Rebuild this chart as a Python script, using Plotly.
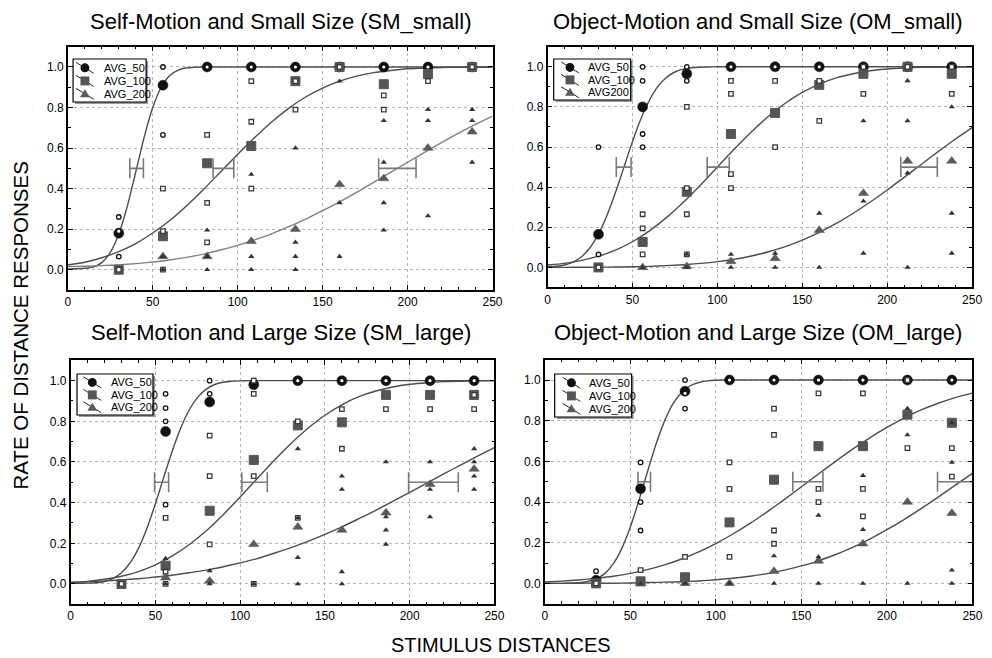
import plotly.graph_objects as go

FONT = "Liberation Sans, Arial, sans-serif"

# ---------------- data ----------------
DISTANCES = [30, 56, 82, 108, 134, 160, 186, 212, 238]
CURVE_X_FINE = [0, 5, 10, 15, 20, 25, 30, 35, 40, 45, 50, 55, 60, 65, 70, 75, 80, 85, 90, 95,
                100, 105, 110, 115, 120, 130, 140, 150, 160, 170, 180, 190, 200, 210, 220, 230, 240, 250]
CURVE_X = [0, 10, 20, 30, 40, 50, 60, 70, 80, 90, 100, 110, 120, 130, 140, 150, 160, 170, 180,
           190, 200, 210, 220, 230, 240, 250]
X_TICKS = [0, 50, 100, 150, 200, 250]
Y_TICKS = [0.0, 0.2, 0.4, 0.6, 0.8, 1.0]
THRESH_LEVEL = [0.5, 0.5, 0.5]

PANEL_TITLES = ["Self-Motion and Small Size (SM_small)", "Object-Motion and Small Size (OM_small)",
                "Self-Motion and Large Size (SM_large)", "Object-Motion and Large Size (OM_large)"]
LEGEND_NAMES = [["AVG_50", "AVG_100", "AVG_200"], ["AVG_50", "AVG_100", "AVG200"],
                ["AVG_50", "AVG_100", "AVG_200"], ["AVG_50", "AVG_100", "AVG_200"]]
Y_TITLE = "RATE OF DISTANCE RESPONSES"
X_TITLE = "STIMULUS DISTANCES"

# --- SM_small ---
SM_SMALL_AVG50 = [0.18, 0.91, 1.0, 1.0, 1.0, 1.0, 1.0, 1.0, 1.0]
SM_SMALL_AVG100 = [0.0, 0.165, 0.525, 0.61, 0.93, 1.0, 0.915, 0.965, 1.0]
SM_SMALL_AVG200 = [None, 0.065, 0.065, 0.14, 0.20, 0.42, 0.45, 0.60, 0.68]
SM_SMALL_SUB50_X = [30, 30, 30, 56, 56, 82, 108, 134, 160, 186, 212, 238]
SM_SMALL_SUB50_Y = [0.26, 0.19, 0.065, 1.0, 0.665, 1.0, 1.0, 1.0, 1.0, 1.0, 1.0, 1.0]
SM_SMALL_SUB100_X = [30, 56, 56, 56, 82, 82, 82, 108, 108, 108, 134, 134, 160, 186, 186, 212, 238]
SM_SMALL_SUB100_Y = [0.0, 0.40, 0.19, 0.0, 0.665, 0.33, 0.135, 0.93, 0.73, 0.40, 0.93, 0.79, 1.0, 0.86, 0.79, 0.93, 1.0]
SM_SMALL_SUB200_X = [56, 56, 82, 82, 82, 108, 108, 108, 134, 134, 134, 134, 160, 160, 160,
                     186, 186, 186, 186, 212, 212, 212, 238, 238, 238]
SM_SMALL_SUB200_Y = [0.065, 0.0, 0.195, 0.065, 0.0, 0.47, 0.065, 0.0, 0.60, 0.135, 0.065, 0.0, 0.93, 0.33, 0.065,
                     0.735, 0.53, 0.33, 0.195, 0.79, 0.735, 0.265, 0.79, 0.735, 0.53]
SM_SMALL_FIT50 = [0.004, 0.005, 0.007, 0.013, 0.035, 0.085, 0.176, 0.313, 0.482, 0.655, 0.80, 0.90, 0.958,
                  0.985, 0.996, 0.999, 1.0, 1.0, 1.0, 1.0, 1.0, 1.0, 1.0, 1.0, 1.0, 1.0, 1.0, 1.0, 1.0,
                  1.0, 1.0, 1.0, 1.0, 1.0, 1.0, 1.0, 1.0, 1.0]
SM_SMALL_FIT100 = [0.023, 0.037, 0.059, 0.089, 0.129, 0.181, 0.243, 0.316, 0.397, 0.483, 0.569, 0.652, 0.729,
                   0.796, 0.852, 0.896, 0.930, 0.955, 0.972, 0.983, 0.991, 0.995, 0.997, 0.999, 0.999, 1.0]
SM_SMALL_FIT200 = [0.015, 0.017, 0.020, 0.024, 0.030, 0.038, 0.048, 0.061, 0.077, 0.097, 0.120, 0.147, 0.177,
                   0.212, 0.250, 0.291, 0.335, 0.382, 0.431, 0.480, 0.530, 0.579, 0.627, 0.674, 0.717, 0.758]
SM_SMALL_THRESH = [40.5, 91.6, 194.0]
SM_SMALL_THRESH_CI = [4.0, 6.1, 11.0]

# --- OM_small ---
OM_SMALL_AVG50 = [0.165, 0.80, 0.965, 1.0, 1.0, 1.0, 1.0, 1.0, 1.0]
OM_SMALL_AVG100 = [0.0, 0.127, 0.377, 0.665, 0.77, 0.91, 0.965, 1.0, 0.965]
OM_SMALL_AVG200 = [None, 0.0, 0.005, 0.03, 0.045, 0.185, 0.37, 0.53, 0.53]
OM_SMALL_SUB50_X = [30, 30, 56, 56, 56, 56, 82, 82, 108, 134, 160, 186, 212, 238]
OM_SMALL_SUB50_Y = [0.60, 0.065, 1.0, 0.93, 0.665, 0.60, 1.0, 0.93, 1.0, 1.0, 1.0, 1.0, 1.0, 1.0]
OM_SMALL_SUB100_X = [30, 56, 56, 56, 82, 82, 82, 82, 108, 108, 108, 108, 134, 134, 160, 160, 186, 186, 212, 238, 238]
OM_SMALL_SUB100_Y = [0.0, 0.265, 0.195, 0.065, 0.80, 0.395, 0.265, 0.065, 0.93, 0.865, 0.465, 0.395, 0.93, 0.60,
                     0.93, 0.73, 1.0, 0.865, 1.0, 1.0, 0.865]
OM_SMALL_SUB200_X = [56, 82, 82, 108, 108, 134, 134, 160, 160, 186, 186, 186, 212, 212, 212, 212, 238, 238, 238]
OM_SMALL_SUB200_Y = [0.0, 0.065, 0.0, 0.065, 0.0, 0.07, 0.0, 0.27, 0.0, 0.73, 0.33, 0.07, 0.93, 0.73, 0.47, 0.0,
                     0.80, 0.27, 0.07]
OM_SMALL_FIT50 = [0.004, 0.006, 0.012, 0.026, 0.053, 0.098, 0.167, 0.259, 0.373, 0.5, 0.627, 0.741, 0.833,
                  0.902, 0.947, 0.974, 0.988, 0.995, 0.998, 0.999, 1.0, 1.0, 1.0, 1.0, 1.0, 1.0, 1.0, 1.0,
                  1.0, 1.0, 1.0, 1.0, 1.0, 1.0, 1.0, 1.0, 1.0, 1.0]
OM_SMALL_FIT100 = [0.012, 0.020, 0.035, 0.056, 0.086, 0.128, 0.182, 0.248, 0.325, 0.410, 0.5, 0.590, 0.675,
                   0.752, 0.818, 0.872, 0.914, 0.945, 0.965, 0.980, 0.989, 0.994, 0.997, 0.998, 0.999, 1.0]
OM_SMALL_FIT200 = [0.0, 0.0, 0.001, 0.001, 0.002, 0.003, 0.005, 0.009, 0.013, 0.020, 0.029, 0.041, 0.057,
                   0.078, 0.104, 0.136, 0.175, 0.219, 0.270, 0.326, 0.386, 0.449, 0.513, 0.577, 0.639, 0.697]
OM_SMALL_THRESH = [44.85, 100.5, 218.75]
OM_SMALL_THRESH_CI = [4.35, 6.5, 10.75]

# --- SM_large ---
SM_LARGE_AVG50 = [None, 0.75, 0.895, 0.98, 1.0, 1.0, 1.0, 1.0, 1.0]
SM_LARGE_AVG100 = [0.0, 0.09, 0.36, 0.61, 0.78, 0.795, 0.93, 0.93, 0.93]
SM_LARGE_AVG200 = [None, 0.03, 0.015, 0.195, 0.28, 0.265, 0.35, 0.49, 0.565]
SM_LARGE_SUB50_X = [56, 56, 56, 56, 82, 82, 108, 134, 160, 186, 212, 238]
SM_LARGE_SUB50_Y = [0.935, 0.865, 0.80, 0.39, 1.0, 0.935, 1.0, 1.0, 1.0, 1.0, 1.0, 1.0]
SM_LARGE_SUB100_X = [30, 56, 56, 56, 82, 82, 82, 108, 108, 108, 108, 134, 134, 160, 160, 186, 212, 238, 238]
SM_LARGE_SUB100_Y = [0.0, 0.325, 0.06, 0.0, 0.73, 0.53, 0.195, 1.0, 0.935, 0.53, 0.0, 0.80, 0.325, 0.86, 0.665,
                     0.86, 0.86, 0.93, 0.86]
SM_LARGE_SUB200_X = [56, 56, 82, 82, 108, 134, 134, 134, 134, 160, 160, 160, 160, 186, 186, 186, 186,
                     212, 212, 212, 238, 238, 238, 238]
SM_LARGE_SUB200_Y = [0.125, 0.0, 0.065, 0.0, 0.0, 0.665, 0.325, 0.13, 0.0, 0.53, 0.465, 0.06, 0.0, 0.60, 0.33,
                     0.265, 0.195, 0.60, 0.465, 0.33, 0.665, 0.60, 0.53, 0.465]
SM_LARGE_FIT50 = [0.003, 0.003, 0.004, 0.006, 0.012, 0.027, 0.055, 0.103, 0.175, 0.274, 0.395, 0.527, 0.655,
                  0.768, 0.857, 0.919, 0.958, 0.981, 0.992, 0.997, 0.999, 1.0, 1.0, 1.0, 1.0, 1.0, 1.0, 1.0,
                  1.0, 1.0, 1.0, 1.0, 1.0, 1.0, 1.0, 1.0, 1.0, 1.0]
SM_LARGE_FIT100 = [0.007, 0.013, 0.023, 0.038, 0.061, 0.094, 0.138, 0.194, 0.262, 0.341, 0.428, 0.518, 0.607,
                   0.691, 0.766, 0.830, 0.881, 0.921, 0.949, 0.969, 0.982, 0.990, 0.995, 0.997, 0.999, 1.0]
SM_LARGE_FIT200 = [0.008, 0.011, 0.015, 0.020, 0.026, 0.034, 0.043, 0.055, 0.068, 0.085, 0.104, 0.125, 0.151,
                   0.179, 0.210, 0.244, 0.281, 0.321, 0.362, 0.406, 0.450, 0.496, 0.541, 0.585, 0.629, 0.671]
SM_LARGE_THRESH = [53.65, 108.5, 214.0]
SM_LARGE_THRESH_CI = [4.15, 7.5, 14.65]

# --- OM_large ---
OM_LARGE_AVG50 = [0.015, 0.465, 0.945, 1.0, 1.0, 1.0, 1.0, 1.0, 1.0]
OM_LARGE_AVG100 = [0.0, 0.01, 0.03, 0.30, 0.51, 0.675, 0.675, 0.83, 0.79]
OM_LARGE_AVG200 = [None, 0.0, 0.0, 0.0, 0.06, 0.11, 0.195, 0.40, 0.345]
OM_LARGE_SUB50_X = [30, 56, 56, 56, 82, 82, 82, 108, 134, 160, 186, 212, 238]
OM_LARGE_SUB50_Y = [0.06, 0.595, 0.40, 0.26, 1.0, 0.935, 0.86, 1.0, 1.0, 1.0, 1.0, 1.0, 1.0]
OM_LARGE_SUB100_X = [30, 56, 82, 108, 108, 108, 134, 134, 134, 134, 160, 160, 160, 186, 186, 186, 212, 212, 238, 238]
OM_LARGE_SUB100_Y = [0.0, 0.065, 0.13, 0.595, 0.465, 0.13, 0.86, 0.73, 0.26, 0.195, 0.935, 0.465, 0.40, 0.935,
                     0.465, 0.33, 1.0, 0.665, 0.665, 0.525]
OM_LARGE_SUB200_X = [56, 82, 108, 134, 134, 160, 160, 160, 186, 186, 186, 212, 212, 212, 238, 238, 238, 238]
OM_LARGE_SUB200_Y = [0.0, 0.0, 0.0, 0.135, 0.0, 0.335, 0.13, 0.0, 0.53, 0.265, 0.0, 0.86, 0.73, 0.0, 0.79, 0.595,
                     0.065, 0.0]
OM_LARGE_FIT50 = [0.0, 0.0, 0.0, 0.001, 0.003, 0.009, 0.022, 0.048, 0.096, 0.171, 0.277, 0.407, 0.548, 0.684,
                  0.798, 0.884, 0.939, 0.972, 0.988, 0.996, 0.999, 1.0, 1.0, 1.0, 1.0, 1.0, 1.0, 1.0, 1.0,
                  1.0, 1.0, 1.0, 1.0, 1.0, 1.0, 1.0, 1.0, 1.0]
OM_LARGE_FIT100 = [0.007, 0.011, 0.017, 0.025, 0.035, 0.049, 0.068, 0.091, 0.120, 0.155, 0.196, 0.243, 0.295,
                   0.352, 0.412, 0.475, 0.538, 0.600, 0.660, 0.716, 0.767, 0.813, 0.853, 0.886, 0.914, 0.936]
OM_LARGE_FIT200 = [0.0, 0.0, 0.001, 0.001, 0.001, 0.002, 0.004, 0.006, 0.008, 0.012, 0.018, 0.025, 0.035,
                   0.048, 0.065, 0.086, 0.111, 0.142, 0.177, 0.218, 0.264, 0.314, 0.368, 0.424, 0.483, 0.541]
OM_LARGE_THRESH = [58.15, 153.8, 245.0]
OM_LARGE_THRESH_CI = [3.65, 8.8, 15.4]

# ---------------- layout / styling ----------------
W, H = 992, 658


def px(xp):
    return xp / W


def py(yp):
    return 1 - yp / H


PANELS = [
    dict(avg=[SM_SMALL_AVG50, SM_SMALL_AVG100, SM_SMALL_AVG200],
         sub=[(SM_SMALL_SUB50_X, SM_SMALL_SUB50_Y), (SM_SMALL_SUB100_X, SM_SMALL_SUB100_Y),
              (SM_SMALL_SUB200_X, SM_SMALL_SUB200_Y)],
         fit=[SM_SMALL_FIT50, SM_SMALL_FIT100, SM_SMALL_FIT200],
         thr=SM_SMALL_THRESH, ci=SM_SMALL_THRESH_CI,
         xdom=[0.0662, 0.5], ydom=[0.5593, 0.9290], fit200_color="#808080",
         title_xy=(0.2838, 0.9666), leg_box=(71, 59, 74, 43, 12, 29)),
    dict(avg=[OM_SMALL_AVG50, OM_SMALL_AVG100, OM_SMALL_AVG200],
         sub=[(OM_SMALL_SUB50_X, OM_SMALL_SUB50_Y), (OM_SMALL_SUB100_X, OM_SMALL_SUB100_Y),
              (OM_SMALL_SUB200_X, OM_SMALL_SUB200_Y)],
         fit=[OM_SMALL_FIT50, OM_SMALL_FIT100, OM_SMALL_FIT200],
         thr=OM_SMALL_THRESH, ci=OM_SMALL_THRESH_CI,
         xdom=[0.5562, 0.9899], ydom=[0.5631, 0.9290], fit200_color="#4d4d4d",
         title_xy=(0.7712, 0.9666), leg_box=(558, 59, 78, 41, 16.5, 33)),
    dict(avg=[SM_LARGE_AVG50, SM_LARGE_AVG100, SM_LARGE_AVG200],
         sub=[(SM_LARGE_SUB50_X, SM_LARGE_SUB50_Y), (SM_LARGE_SUB100_X, SM_LARGE_SUB100_Y),
              (SM_LARGE_SUB200_X, SM_LARGE_SUB200_Y)],
         fit=[SM_LARGE_FIT50, SM_LARGE_FIT100, SM_LARGE_FIT200],
         thr=SM_LARGE_THRESH, ci=SM_LARGE_THRESH_CI,
         xdom=[0.0691, 0.5020], ydom=[0.0816, 0.4524], fit200_color="#4d4d4d",
         title_xy=(0.2838, 0.4954), leg_box=(75, 374, 77, 41, 15.5, 32.5)),
    dict(avg=[OM_LARGE_AVG50, OM_LARGE_AVG100, OM_LARGE_AVG200],
         sub=[(OM_LARGE_SUB50_X, OM_LARGE_SUB50_Y), (OM_LARGE_SUB100_X, OM_LARGE_SUB100_Y),
              (OM_LARGE_SUB200_X, OM_LARGE_SUB200_Y)],
         fit=[OM_LARGE_FIT50, OM_LARGE_FIT100, OM_LARGE_FIT200],
         thr=OM_LARGE_THRESH, ci=OM_LARGE_THRESH_CI,
         xdom=[0.5534, 0.9902], ydom=[0.0825, 0.4533], fit200_color="#4d4d4d",
         title_xy=(0.7707, 0.4954), leg_box=(559, 374, 78, 43, 17, 33)),
]

AVG_COLORS = ["#111111", "#555555", "#5a5a5a"]
AVG_STYLE = [
    dict(symbol="circle", size=10, color=AVG_COLORS[0], line=dict(width=0.5, color=AVG_COLORS[0])),
    dict(symbol="square", size=9, color=AVG_COLORS[1], line=dict(width=1, color=AVG_COLORS[1])),
    dict(symbol="triangle-up", size=9, color=AVG_COLORS[2], line=dict(width=0.5, color=AVG_COLORS[2])),
]
SUB_STYLE = [
    dict(symbol="circle", size=4.5, color="white", line=dict(width=1.3, color="#111111")),
    dict(symbol="square", size=4.5, color="white", line=dict(width=1.3, color="#3a3a3a")),
    dict(symbol="triangle-up", size=5.5, color="#333333", line=dict(width=0, color="#333333")),
]
FIT_COLOR = "#4d4d4d"

fig = go.Figure()
annotations = []
shapes = []
layout_axes = {}

for i, p in enumerate(PANELS):
    n = i + 1
    xa = "x" if n == 1 else f"x{n}"
    ya = "y" if n == 1 else f"y{n}"
    fit_colors = [FIT_COLOR, FIT_COLOR, p["fit200_color"]]
    fit_xs = [CURVE_X_FINE, CURVE_X, CURVE_X]

    # fitted curves
    for k in range(3):
        fig.add_trace(go.Scatter(x=fit_xs[k], y=p["fit"][k], mode="lines",
                                 line=dict(color=fit_colors[k], width=1.4, shape="spline", smoothing=0.6),
                                 xaxis=xa, yaxis=ya, showlegend=False, hoverinfo="skip"))
    # threshold error bars
    fig.add_trace(go.Scatter(x=p["thr"], y=THRESH_LEVEL, mode="markers",
                             marker=dict(size=1, opacity=0),
                             error_x=dict(type="data", array=p["ci"], visible=True,
                                          color="#7a7a7a", thickness=1.6, width=10),
                             xaxis=xa, yaxis=ya, showlegend=False, hoverinfo="skip"))
    # averages and subject points
    for k in range(3):
        fig.add_trace(go.Scatter(x=DISTANCES, y=p["avg"][k], mode="markers", name=LEGEND_NAMES[i][k],
                                 marker=AVG_STYLE[k], xaxis=xa, yaxis=ya, showlegend=False))
        sx, sy = p["sub"][k]
        fig.add_trace(go.Scatter(x=sx, y=sy, mode="markers", marker=SUB_STYLE[k],
                                 xaxis=xa, yaxis=ya, showlegend=False))

    axis_common = dict(showline=True, linecolor="black", linewidth=1.5, mirror="allticks",
                       ticks="inside", ticklen=5, tickwidth=1, tickcolor="black",
                       showgrid=True, gridcolor="#b5b5b5", griddash="3px,3px", gridwidth=1,
                       zeroline=False, tickfont=dict(family=FONT, size=12, color="black"))
    layout_axes["xaxis" if n == 1 else f"xaxis{n}"] = dict(
        axis_common, domain=p["xdom"], range=[0, 250], anchor=ya,
        tickmode="array", tickvals=X_TICKS, ticktext=[str(v) for v in X_TICKS],
        minor=dict(ticks="inside", ticklen=3, tickcolor="black", dtick=10, tick0=0, showgrid=False))
    layout_axes["yaxis" if n == 1 else f"yaxis{n}"] = dict(
        axis_common, domain=p["ydom"], range=[-0.1, 1.1], anchor=xa,
        tickmode="array", tickvals=Y_TICKS, ticktext=[f"{v:.1f}" for v in Y_TICKS],
        minor=dict(ticks="inside", ticklen=3, tickcolor="black", dtick=0.1, tick0=0, showgrid=False))

    annotations.append(dict(text=PANEL_TITLES[i], x=p["title_xy"][0], y=p["title_xy"][1],
                            xref="paper", yref="paper", showarrow=False, xanchor="center", yanchor="middle",
                            font=dict(family=FONT, size=22, color="black")))

    # ---- hand-built legend box (Statistica style) ----
    L, T, BW, BH, so, to = p["leg_box"]
    shapes.append(dict(type="rect", xref="paper", yref="paper", layer="above",
                       x0=px(L + 2), x1=px(L + BW + 2), y0=py(T + BH + 2), y1=py(T + 2),
                       fillcolor="#9a9a9a", line=dict(width=0)))
    shapes.append(dict(type="rect", xref="paper", yref="paper", layer="above",
                       x0=px(L), x1=px(L + BW), y0=py(T + BH), y1=py(T),
                       fillcolor="white", line=dict(color="black", width=1.2)))
    for k, frac in enumerate([0.205, 0.51, 0.81]):
        ry = T + BH * frac
        cx = L + so
        shapes.append(dict(type="line", xref="paper", yref="paper", layer="above",
                           x0=px(cx - 9), y0=py(ry - 5.5), x1=px(cx + 9), y1=py(ry + 5.5),
                           line=dict(color="#222222", width=1)))
        if k == 0:
            shapes.append(dict(type="circle", xref="paper", yref="paper", layer="above",
                               x0=px(cx - 4.5), x1=px(cx + 4.5), y0=py(ry + 4.5), y1=py(ry - 4.5),
                               fillcolor=AVG_COLORS[0], line=dict(width=0)))
        elif k == 1:
            shapes.append(dict(type="rect", xref="paper", yref="paper", layer="above",
                               x0=px(cx - 4.5), x1=px(cx + 4.5), y0=py(ry + 4.5), y1=py(ry - 4.5),
                               fillcolor=AVG_COLORS[1], line=dict(width=0)))
        else:
            path = (f"M {px(cx - 5)} {py(ry + 3.5)} L {px(cx + 5)} {py(ry + 3.5)} "
                    f"L {px(cx)} {py(ry - 4.5)} Z")
            shapes.append(dict(type="path", xref="paper", yref="paper", layer="above", path=path,
                               fillcolor=AVG_COLORS[2], line=dict(width=0)))
        annotations.append(dict(text=LEGEND_NAMES[i][k], x=px(L + to), y=py(ry), xref="paper", yref="paper",
                                showarrow=False, xanchor="left", yanchor="middle",
                                font=dict(family=FONT, size=11, color="black")))

annotations.append(dict(text=Y_TITLE, x=0.018, y=0.5046, xref="paper", yref="paper", showarrow=False,
                        textangle=-90, xanchor="center", yanchor="middle",
                        font=dict(family=FONT, size=20.5, color="black")))
annotations.append(dict(text=X_TITLE, x=0.509, y=0.0198, xref="paper", yref="paper", showarrow=False,
                        xanchor="center", yanchor="middle",
                        font=dict(family=FONT, size=20, color="black")))

fig.update_layout(width=W, height=H, margin=dict(l=0, r=0, t=0, b=0),
                  paper_bgcolor="white", plot_bgcolor="white",
                  font=dict(family=FONT, color="black"), showlegend=False,
                  annotations=annotations, shapes=shapes, **layout_axes)

fig.write_html("out.html")
